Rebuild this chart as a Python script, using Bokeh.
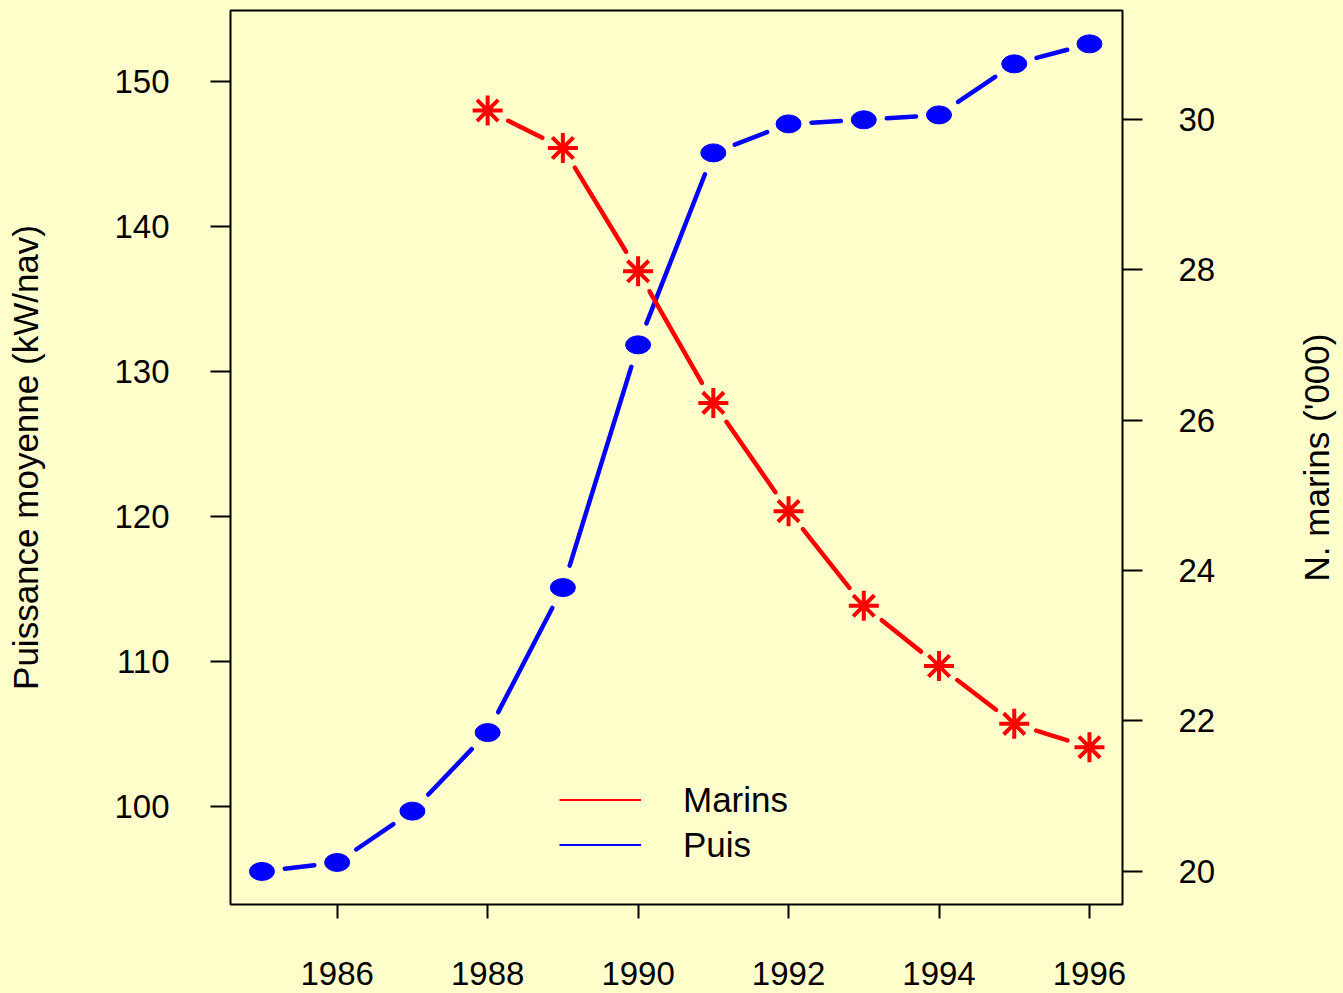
import numpy as np
from bokeh.plotting import figure
from bokeh.layouts import row
from bokeh.models import Range1d, LinearAxis, FixedTicker, Legend, LegendItem
from bokeh.embed import file_html
from bokeh.resources import INLINE

# ---- data ----
years = [1985, 1986, 1987, 1988, 1989, 1990, 1991, 1992, 1993, 1994, 1995, 1996]
puis = [95.52, 96.14, 99.68, 105.1, 115.1, 131.84, 145.08, 147.08, 147.36, 147.7, 151.22, 152.6]
marins_years = [1988, 1989, 1990, 1991, 1992, 1993, 1994, 1995, 1996]
marins = [30.12, 29.62, 27.98, 26.23, 24.79, 23.53, 22.73, 21.96, 21.65]
x_ticks = [1986, 1988, 1990, 1992, 1994, 1996]
left_ticks = [100, 110, 120, 130, 140, 150]
right_ticks = [20, 22, 24, 26, 28, 30]
legend_labels = ["Marins", "Puis"]
y_left_label = "Puissance moyenne (kW/nav)"
y_right_label = "N. marins ('000)"

BG = "#FFFFCC"
FONT = "Liberation Sans"

X0, X1 = 1984.582, 1996.439
YL0, YL1 = 93.24, 154.90
YR0, YR1 = 19.557, 31.450
W_FRAME, H_FRAME = 892, 894

p = figure(width=1293, height=993, output_backend="svg", toolbar_location=None,
           title=None, x_range=Range1d(X0, X1), y_range=Range1d(YL0, YL1),
           min_border_left=230, min_border_right=171, min_border_top=10,
           min_border_bottom=89)
p.extra_y_ranges = {"right": Range1d(YR0, YR1)}
p.background_fill_color = BG
p.border_fill_color = BG
p.outline_line_color = "black"
p.outline_line_width = 2
p.xgrid.visible = False
p.ygrid.visible = False


def style_axis(ax, tick_out, standoff):
    ax.axis_line_color = None
    ax.major_tick_in = 0
    ax.major_tick_out = tick_out
    ax.major_tick_line_width = 2
    ax.major_tick_line_color = "black"
    ax.minor_tick_line_color = None
    ax.major_label_text_font = FONT
    ax.major_label_text_font_size = "33px"
    ax.major_label_text_color = "black"
    ax.major_label_standoff = standoff
    ax.axis_label_text_font = FONT
    ax.axis_label_text_font_size = "35px"
    ax.axis_label_text_font_style = "normal"
    ax.axis_label_text_color = "black"


xa = p.xaxis[0]
xa.ticker = FixedTicker(ticks=x_ticks)
style_axis(xa, 14, 43)

la = p.yaxis[0]
la.ticker = FixedTicker(ticks=left_ticks)
style_axis(la, 20, 41)
la.axis_label = y_left_label
la.axis_label_standoff = 66

ra = LinearAxis(y_range_name="right", ticker=FixedTicker(ticks=right_ticks))
style_axis(ra, 20, 36)
p.add_layout(ra, "right")


# ---- lines with gaps around the points (R type="b") ----
def gapped(xs, ys, y0, y1, gap=23.0):
    kx = W_FRAME / (X1 - X0)
    ky = H_FRAME / (y1 - y0)
    sx = (np.asarray(xs, float) - X0) * kx
    sy = (np.asarray(ys, float) - y0) * ky
    dx, dy = np.diff(sx), np.diff(sy)
    L = np.hypot(dx, dy)
    ux, uy = dx / L, dy / L
    ax0, ay0 = sx[:-1] + ux * gap, sy[:-1] + uy * gap
    ax1, ay1 = sx[1:] - ux * gap, sy[1:] - uy * gap
    return (ax0 / kx + X0, ay0 / ky + y0, ax1 / kx + X0, ay1 / ky + y0)


bx0, by0, bx1, by1 = gapped(years, puis, YL0, YL1)
p.segment(x0=bx0, y0=by0, x1=bx1, y1=by1, line_color="blue", line_width=4.5,
          line_cap="round")
p.ellipse(x=years, y=puis, width=25, height=18, width_units="screen",
          height_units="screen", fill_color="blue", line_color="blue")

rx0, ry0, rx1, ry1 = gapped(marins_years, marins, YR0, YR1)
p.segment(x0=rx0, y0=ry0, x1=rx1, y1=ry1, line_color="red", line_width=4.5,
          line_cap="round", y_range_name="right")
p.scatter(x=marins_years, y=marins, marker="asterisk", size=30,
          line_color="red", line_width=4, y_range_name="right")

# ---- legend ----
lr = p.line(x=[np.nan], y=[np.nan], line_color="red", line_width=2)
lb = p.line(x=[np.nan], y=[np.nan], line_color="blue", line_width=2)
legend = Legend(items=[LegendItem(label=legend_labels[0], renderers=[lr]),
                       LegendItem(label=legend_labels[1], renderers=[lb])],
                location=(329, 37), orientation="vertical",
                glyph_width=82, glyph_height=45, label_height=45,
                label_standoff=42, spacing=0, padding=0, margin=0,
                border_line_color=None, background_fill_alpha=0,
                label_text_font=FONT, label_text_font_size="35px",
                label_text_color="black")
p.add_layout(legend)

# ---- narrow strip carrying the right-hand axis title (reads bottom to top) ----
p2 = figure(width=50, height=993, output_backend="svg", toolbar_location=None,
            title=None, x_range=Range1d(0, 1), y_range=Range1d(0, 1),
            min_border_left=0, min_border_right=0, min_border_top=10,
            min_border_bottom=89)
p2.background_fill_color = BG
p2.border_fill_color = BG
p2.outline_line_color = None
p2.xgrid.visible = False
p2.ygrid.visible = False
p2.xaxis.visible = False
ya = p2.yaxis[0]
ya.ticker = FixedTicker(ticks=[])
ya.axis_line_color = None
ya.major_tick_in = 0
ya.major_tick_out = 0
ya.minor_tick_line_color = None
ya.major_tick_line_color = None
ya.major_label_standoff = 0
ya.major_label_text_font_size = "0px"
ya.axis_label = y_right_label
ya.axis_label_standoff = 0
ya.axis_label_text_font = FONT
ya.axis_label_text_font_size = "35px"
ya.axis_label_text_font_style = "normal"
ya.axis_label_text_color = "black"

layout = row(p, p2, spacing=0)

template = """{% block postamble %}<style>html, body { background: #FFFFCC; }</style>{% endblock %}"""
open("out.html", "w").write(file_html(layout, INLINE, template=template))
